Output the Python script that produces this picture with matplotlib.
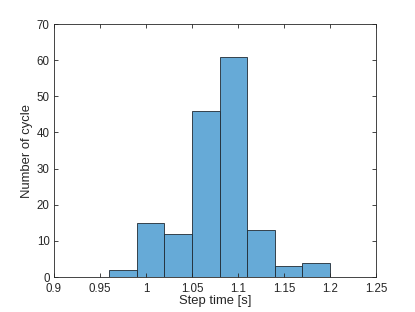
import matplotlib
matplotlib.use("Agg")
import matplotlib.pyplot as plt
import numpy as np

bin_edges = [0.96, 0.99, 1.02, 1.05, 1.08, 1.11, 1.14, 1.17, 1.20]
counts = [2, 15, 12, 46, 61, 13, 3, 4]
xticks = [0.9, 0.95, 1, 1.05, 1.1, 1.15, 1.2, 1.25]
xtick_labels = ["0.9", "0.95", "1", "1.05", "1.1", "1.15", "1.2", "1.25"]
yticks = [0, 10, 20, 30, 40, 50, 60, 70]

plt.rcParams['font.family'] = ['Liberation Sans', 'DejaVu Sans']

fig = plt.figure(figsize=(4.15, 3.12), dpi=100)
ax = fig.add_axes([0.130, 0.112, 0.776, 0.811])

lefts = np.array(bin_edges[:-1])
widths = np.diff(bin_edges)
ax.bar(lefts, counts, width=widths, align='edge', color='#66AAD7',
       edgecolor='#1f2a33', linewidth=0.6)

ax.set_xlim(0.9, 1.25)
ax.set_ylim(0, 70)
ax.set_xticks(xticks)
ax.set_xticklabels(xtick_labels)
ax.set_yticks(yticks)
ax.tick_params(direction='in', top=True, right=True, length=3, width=0.6,
               labelsize=8.3, colors='#262626')
ax.tick_params(axis='x', pad=4)
ax.tick_params(axis='y', pad=3)
for s in ax.spines.values():
    s.set_linewidth(0.6)
    s.set_color('#262626')
ax.set_xlabel("Step time [s]", fontsize=9.4, color='#262626', labelpad=0)
ax.set_ylabel("Number of cycle", fontsize=9.4, color='#262626', labelpad=3)

fig.savefig("out.png", dpi=100)
